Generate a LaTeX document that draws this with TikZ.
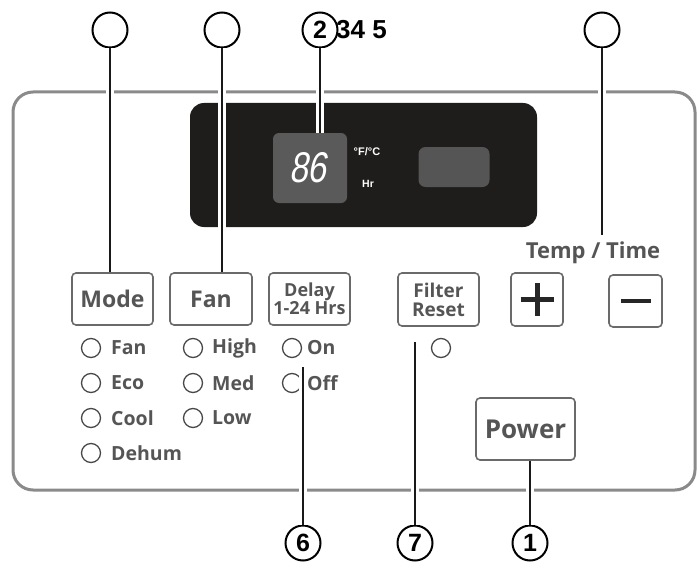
\documentclass[tikz,border=0pt]{standalone}
\usepackage{fontspec}
\usetikzlibrary{calc}
\setmainfont{Open Sans}
\newfontfamily\numfont{Liberation Sans}
\newfontfamily\segfont[FakeSlant=0.18,FakeStretch=0.78]{Liberation Sans}
\definecolor{panelgray}{HTML}{8A8A8A}
\definecolor{btngray}{HTML}{6A6A6A}
\definecolor{txtgray}{HTML}{555555}
\definecolor{dispdark}{HTML}{1F1D1B}
\definecolor{segbox}{HTML}{5A5A5A}
\begin{document}
\begin{tikzpicture}[x=1pt,y=-1pt,
  btn/.style={draw=btngray,line width=1.6pt,rounded corners=4pt,inner sep=0pt,
    text=txtgray,font=\bfseries\fontsize{23}{24}\selectfont,align=center},
  led/.style={circle,draw=txtgray!85!black,line width=1.3pt,minimum size=19pt,inner sep=0pt},
  ledtxt/.style={anchor=west,text=txtgray,font=\bfseries\fontsize{19.5}{21}\selectfont,inner sep=0pt},
  callout/.style={circle,draw=black,line width=2pt,minimum size=35pt,inner sep=0pt,
    font=\numfont\bfseries\fontsize{25}{27}\selectfont},
  conn/.style={draw=black!90,line width=2pt,line cap=butt,
    preaction={draw=white,line width=8pt}}]
\useasboundingbox (0,0) rectangle (698,567);
% panel
\draw[panelgray,line width=3pt,rounded corners=20pt] (13,92) rectangle (695,490);
% display
\fill[dispdark,rounded corners=14pt] (190,103) rectangle (537,227);
\node[fill=segbox,rounded corners=6pt,minimum width=74pt,minimum height=70pt,inner sep=0pt] (seg) at (310,168) {};
\node[text=white,font=\segfont\fontsize{43}{43}\selectfont,inner sep=0pt] (digits) at (308,168) {86};
\node[text=white,font=\numfont\bfseries\fontsize{11}{12}\selectfont,inner sep=0pt] (units) at (367,152) {°F/°C};
\node[text=white,font=\numfont\bfseries\fontsize{10.5}{11}\selectfont,inner sep=0pt] (hr) at (368,184) {Hr};
\node[fill=segbox!95!black,rounded corners=7pt,minimum width=71pt,minimum height=40pt,inner sep=0pt] (smallwin) at (454,167) {};
% buttons
\node[btn,minimum width=81pt,minimum height=52pt] (mode) at (112.5,299) {Mode};
\node[btn,minimum width=82pt,minimum height=52pt] (fan) at (211,299) {Fan};
\node[btn,minimum width=81pt,minimum height=52pt,font=\bfseries\fontsize{18}{18}\selectfont] (delay) at (309.5,299) {Delay\\1-24 Hrs};
\node[btn,minimum width=81pt,minimum height=53pt,font=\bfseries\fontsize{19}{19}\selectfont] (filter) at (438.5,299.5) {Filter\\Reset};
\node[btn,minimum width=52pt,minimum height=53pt] (plus) at (537,299.5) {};
\node[btn,minimum width=53pt,minimum height=52pt] (minus) at (635.5,301) {};
\draw[black!85,line width=5pt] ($(plus.center)+(-16.5,0)$) -- ($(plus.center)+(16.5,0)$)
  ($(plus.center)+(0,-16.5)$) -- ($(plus.center)+(0,16.5)$);
\draw[black!85,line width=4pt] ($(minus.center)+(-15,0)$) -- ($(minus.center)+(15,0)$);
\node[btn,minimum width=99pt,minimum height=62pt,font=\bfseries\fontsize{26}{27}\selectfont] (power) at (525.5,429) {Power};
\node[text=txtgray,font=\bfseries\fontsize{22}{23}\selectfont,inner sep=0pt] (temptime) at (593,253) {Temp / Time};
% indicator lists
\node[led] (l1) at (91,348) {}; \node[ledtxt] (t1) at (111,348) {Fan};
\node[led] (l2) at (91,383) {}; \node[ledtxt] (t2) at (111,383) {Eco};
\node[led] (l3) at (91,418) {}; \node[ledtxt] (t3) at (111,418) {Cool};
\node[led] (l4) at (91,453) {}; \node[ledtxt] (t4) at (111,453) {Dehum};
\node[led] (l5) at (193,348) {}; \node[ledtxt] (t5) at (212,348) {High};
\node[led] (l6) at (193,383) {}; \node[ledtxt] (t6) at (212,383) {Med};
\node[led] (l7) at (193,418) {}; \node[ledtxt] (t7) at (212,418) {Low};
\node[led] (l8) at (292,348) {}; \node[ledtxt] (t8) at (307,348) {On};
\node[led] (l9) at (292,383) {}; \node[ledtxt] (t9) at (307,383) {Off};
\node[led] (l10) at (441,348) {};
% callouts
\node[callout] (c0a) at (110,30) {};
\node[callout] (c0b) at (222,30) {};
\node[callout] (c2) at (320,30) {2};
\node[anchor=west,inner sep=0pt,font=\numfont\bfseries\fontsize{26}{28}\selectfont] (c345) at (336,30) {34 5};
\node[callout] (c0c) at (602,30) {};
\node[callout] (c6) at (303,543) {6};
\node[callout] (c7) at (415,543) {7};
\node[callout] (c1) at (530,543) {1};
\coordinate (tempend) at (602,235);
\coordinate (delayend) at (303,367);
\coordinate (filterend) at (415,342);
% connectors
\draw[conn] (c0a) -- (c0a |- mode.north);
\draw[conn] (c0b) -- (c0b |- fan.north);
\draw[conn] (c2) -- (c2 |- seg.north);
\draw[conn] (c0c) -- (tempend);
\draw[conn] (delayend) -- (c6);
\draw[conn] (filterend) -- (c7);
\draw[conn] (power.south -| c1) -- (c1);
\end{tikzpicture}
\end{document}
